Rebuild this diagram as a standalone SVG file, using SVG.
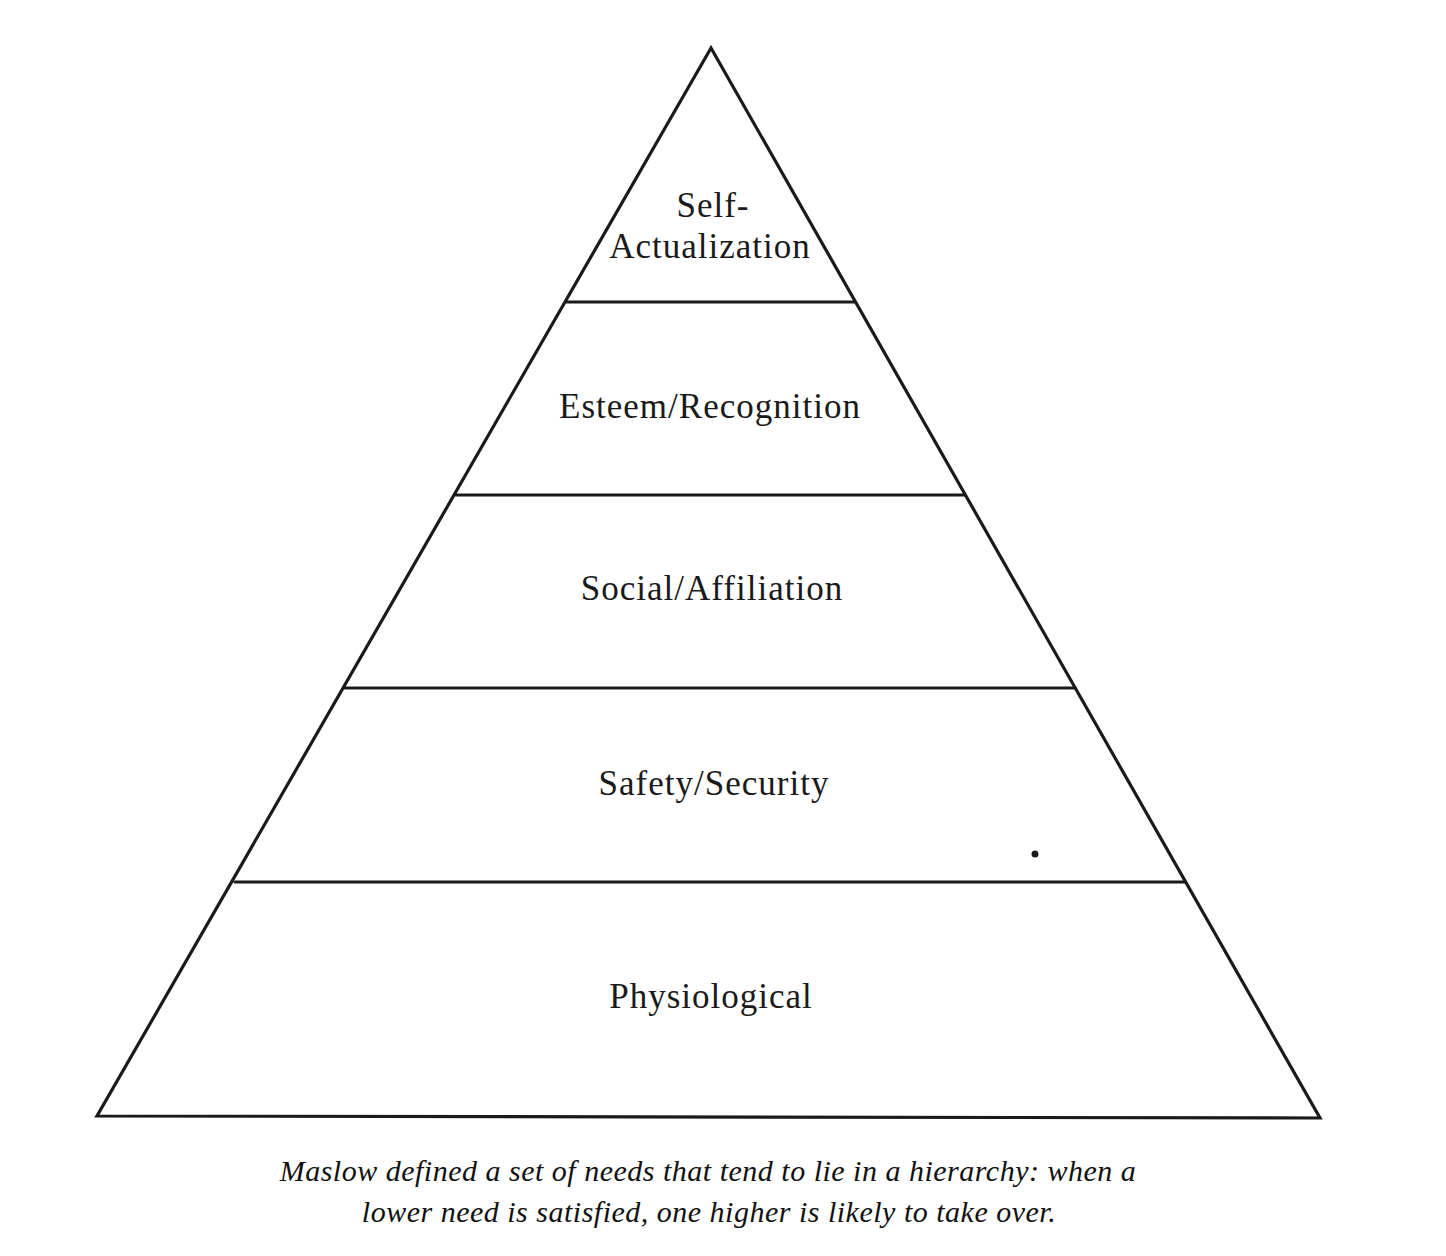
<svg xmlns="http://www.w3.org/2000/svg" width="1446" height="1256" viewBox="0 0 1446 1256">
<style>
.ln{stroke:#1a1a1a;stroke-width:3.2;fill:none;stroke-linejoin:miter;stroke-linecap:round}
.lbl{font-family:"Liberation Serif",serif;font-size:35px;letter-spacing:1px;fill:#1a1a1a;text-anchor:middle}
.cap{font-family:"Liberation Serif",serif;font-style:italic;font-size:30px;letter-spacing:0.5px;fill:#111;text-anchor:middle}
</style>
<rect width="1446" height="1256" fill="#fff"/>
<g id="connectors">
<polygon class="ln" points="711,48 97,1116 1320,1118"/>
<line class="ln" x1="567" y1="302" x2="855" y2="302"/>
<line class="ln" x1="456" y1="495" x2="965" y2="495"/>
<line class="ln" x1="345" y1="688" x2="1075" y2="688"/>
<line class="ln" x1="235" y1="882" x2="1185" y2="882"/>
</g>
<g id="node-self"><text class="lbl" x="713" y="217">Self-</text><text class="lbl" x="710" y="258">Actualization</text></g>
<g id="node-esteem"><text class="lbl" x="710" y="418">Esteem/Recognition</text></g>
<g id="node-social"><text class="lbl" x="712" y="600">Social/Affiliation</text></g>
<g id="node-safety"><text class="lbl" x="714" y="795">Safety/Security</text></g>
<g id="node-phys"><text class="lbl" x="711" y="1008">Physiological</text></g>
<circle cx="1035" cy="854" r="3.5" fill="#1a1a1a"/>
<g id="caption">
<text class="cap" x="708" y="1181">Maslow defined a set of needs that tend to lie in a hierarchy: when a</text>
<text class="cap" x="709" y="1222">lower need is satisfied, one higher is likely to take over.</text>
</g>
</svg>
